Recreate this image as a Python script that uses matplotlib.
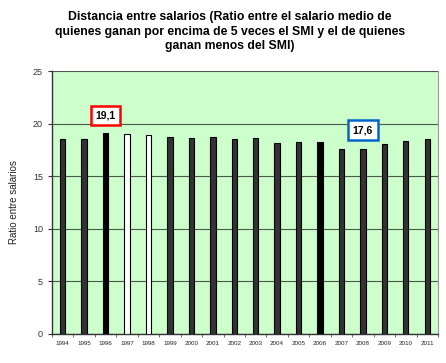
import numpy as np
import matplotlib
matplotlib.use("Agg")
from matplotlib import pyplot as plt

plt.rcParams['font.family'] = ['Liberation Sans', 'DejaVu Sans']

# Data
years = ['1994', '1995', '1996', '1997', '1998', '1999', '2000', '2001', '2002',
         '2003', '2004', '2005', '2006', '2007', '2008', '2009', '2010', '2011']
ratio = [18.5, 18.5, 19.1, 19.0, 18.9, 18.7, 18.6, 18.7, 18.5,
         18.6, 18.2, 18.3, 18.3, 17.6, 17.6, 18.1, 18.4, 18.5]
highlight_black = ['1996', '2006']
highlight_white = ['1997', '1998']

fig = plt.figure(figsize=(4.46, 3.63), dpi=100)
ax = fig.add_axes([0.1166, 0.080, 0.8654, 0.724])
ax.set_facecolor('#CCFFCC')

x = np.arange(len(years))
faces = []
for y in years:
    if y in highlight_black:
        faces.append('#000000')
    elif y in highlight_white:
        faces.append('#FFFFFF')
    else:
        faces.append('#333333')
ax.bar(x, ratio, width=0.25, color=faces, edgecolor='#000000', linewidth=0.8, zorder=3)

ax.set_xlim(-0.5, len(years) - 0.5)
ax.set_ylim(0, 25)
ax.set_yticks([0, 5, 10, 15, 20, 25])
ax.yaxis.grid(True, color='#4a5a4a', linewidth=0.8, zorder=1)
ax.set_xticks(x)
ax.set_xticklabels(years, fontsize=4.5, color='#222222')
ax.set_xticks(np.arange(-0.5, len(years), 1), minor=True)
ax.tick_params(axis='x', which='major', length=0, pad=5)
ax.tick_params(axis='x', which='minor', length=2, color='#555555')
ax.tick_params(axis='y', labelsize=6.5, length=3, color='#333333', labelcolor='#333333')
ax.set_ylabel('Ratio entre salarios', fontsize=7, labelpad=10, color='#222222')

for side in ['left', 'bottom']:
    ax.spines[side].set_color('#333333')
    ax.spines[side].set_linewidth(1.0)
ax.spines['top'].set_visible(False)
ax.spines['right'].set_color('#999999')

# Value call-outs
i96 = years.index('1996')
ax.text(i96, 20.8, '19,1', ha='center', va='center', fontsize=7.5, fontweight='bold',
        bbox=dict(boxstyle='square,pad=0.45', fc='white', ec='#FF0000', lw=1.8))
i08 = years.index('2008')
ax.text(i08, 19.4, '17,6', ha='center', va='center', fontsize=7.5, fontweight='bold',
        bbox=dict(boxstyle='square,pad=0.45', fc='white', ec='#0066CC', lw=1.8))

fig.text(0.515, 0.913,
         'Distancia entre salarios (Ratio entre el salario medio de\n'
         'quienes ganan por encima de 5 veces el SMI y el de quienes\n'
         'ganan menos del SMI)',
         ha='center', va='center', fontsize=8.8, fontweight='bold', linespacing=1.25)

fig.savefig('out.png', dpi=100)
